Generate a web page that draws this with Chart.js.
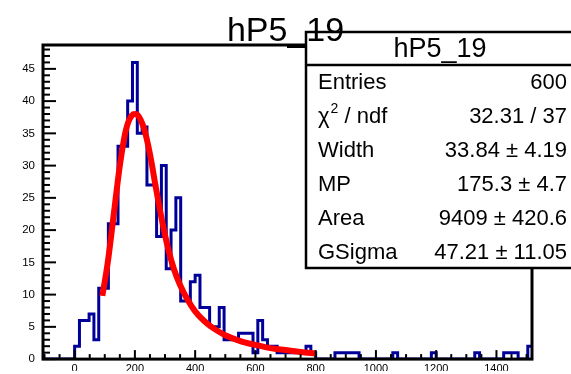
<!DOCTYPE html>
<html>
<head>
<meta charset="utf-8">
<script src="https://cdn.jsdelivr.net/npm/chart.js@4/dist/chart.umd.min.js"></script>
<style>
  html, body { margin: 0; padding: 0; background: #fff; }
  canvas { display: block; }
</style>
</head>
<body>
<canvas id="histo" width="571" height="374"></canvas>
<script>
// histogram hP5_19, bins of 16 starting at 0
const histName = 'hP5_19';
const binWidth = 16;
const binCounts = [
  2, 6, 6, 7, 3, 11, 11, 21, 21, 33,
  33, 40, 46, 35, 36, 27, 27, 19, 30, 14,
  20, 25, 9, 9, 12, 13, 8, 8, 5, 5,
  8, 3, 3, 3, 4, 4, 4, 1, 6, 3,
  2, 2, 1, 1, 1, 1, 1, 1, 2, 1,
  0, 0, 0, 0, 1, 1, 1, 1, 1, 0,
  0, 0, 0, 0, 0, 0, 1, 0, 0, 0,
  0, 0, 0, 0, 1, 0, 0, 0, 0, 0,
  0, 0, 0, 1, 0, 0, 0, 0, 0, 1,
  1, 1, 0, 0, 2
];

// fitted landau x gauss curve
const fitX = [92, 110, 130, 150, 170, 190, 200, 210, 230, 250, 270, 290, 310, 330, 350, 375, 400, 430, 460, 500, 550, 600, 650, 700, 750, 800];
const fitY = [9.8, 15, 22.5, 30, 35.5, 37.8, 38, 37.8, 35.8, 31.8, 26.5, 21.5, 17.2, 13.9, 11.5, 9.2, 7.4, 5.9, 4.8, 3.7, 2.8, 2.2, 1.7, 1.4, 1.1, 0.9];

const xTickValues = [0, 200, 400, 600, 800, 1000, 1200, 1400];
const yTickValues = [0, 5, 10, 15, 20, 25, 30, 35, 40, 45];

const statLabels = ['Entries', 'χ2 / ndf', 'Width', 'MP', 'Area', 'GSigma'];
const statValues = ['600', '32.31 / 37', '33.84 ± 4.19', '175.3 ± 4.7', '9409 ± 420.6', '47.21 ± 11.05'];

const xMin = -105, xMax = 1518;
const yMax = 48.7;

const FONT = "'Liberation Sans', Arial, Helvetica, sans-serif";

const histPoints = [{x: xMin, y: 0}];
binCounts.forEach((c, i) => histPoints.push({x: i * binWidth, y: c}));
histPoints.push({x: binCounts.length * binWidth, y: binCounts[binCounts.length - 1]});

const fitPoints = fitX.map((x, i) => ({x: x, y: fitY[i]}));

function line(ctx, x1, y1, x2, y2) {
  ctx.beginPath();
  ctx.moveTo(x1, y1);
  ctx.lineTo(x2, y2);
  ctx.stroke();
}

// frame + inside ticks, ROOT style
const framePlugin = {
  id: 'frame',
  afterDatasetsDraw(chart) {
    const {ctx, chartArea: a, scales: {x, y}} = chart;
    ctx.save();
    ctx.strokeStyle = '#000';
    ctx.lineWidth = 2;
    for (let v = 0; v <= 48; v++) {
      const py = y.getPixelForValue(v);
      line(ctx, a.left, py, a.left + (v % 5 === 0 ? 13 : 7), py);
    }
    for (let v = -100; v <= 1500; v += 50) {
      const px = x.getPixelForValue(v);
      line(ctx, px, a.bottom, px, a.bottom - (v % 200 === 0 ? 9 : 5));
    }
    ctx.lineWidth = 3;
    ctx.strokeRect(a.left, a.top, a.right - a.left, a.bottom - a.top);
    ctx.restore();
  }
};

// stats box and title
const statsPlugin = {
  id: 'stats',
  afterDraw(chart) {
    const ctx = chart.ctx;
    const bx = 306, by = 32, bw = 270, bh = 236, head = 33;
    ctx.save();
    ctx.fillStyle = '#fff';
    ctx.fillRect(bx, by, bw, bh);
    ctx.strokeStyle = '#000';
    ctx.lineWidth = 2.5;
    ctx.strokeRect(bx, by, bw, bh);
    line(ctx, bx, by + head, bx + bw, by + head);

    ctx.fillStyle = '#000';
    ctx.textAlign = 'center';
    ctx.textBaseline = 'alphabetic';
    ctx.font = '27px ' + FONT;
    ctx.fillText(histName, 440, 57);

    const rowH = (bh - head) / statLabels.length;
    ctx.font = '22px ' + FONT;
    ctx.textBaseline = 'middle';
    statLabels.forEach((lab, i) => {
      const cy = by + head + rowH * (i + 0.5) + 1.5;
      ctx.textAlign = 'left';
      if (lab.startsWith('χ2')) {
        ctx.fillText('χ', 318, cy);
        let w = ctx.measureText('χ').width;
        ctx.font = '14px ' + FONT;
        ctx.fillText('2', 318 + w + 1, cy - 8);
        w += ctx.measureText('2').width + 1;
        ctx.font = '22px ' + FONT;
        ctx.fillText(lab.slice(2), 318 + w, cy);
      } else {
        ctx.fillText(lab, 318, cy);
      }
      ctx.textAlign = 'right';
      ctx.fillText(statValues[i], 567, cy);
    });

    ctx.textAlign = 'center';
    ctx.textBaseline = 'alphabetic';
    ctx.font = '34px ' + FONT;
    ctx.fillText(histName, 285.5, 41);
    ctx.restore();
  }
};

new Chart(document.getElementById('histo'), {
  type: 'line',
  data: {
    datasets: [{
      label: 'fit',
      data: fitPoints,
      borderColor: '#ff0000',
      borderWidth: 6,
      pointRadius: 0,
      cubicInterpolationMode: 'monotone',
      fill: false
    }, {
      label: histName,
      data: histPoints,
      borderColor: '#000099',
      borderWidth: 3,
      pointRadius: 0,
      stepped: true,
      fill: false
    }]
  },
  options: {
    responsive: false,
    animation: false,
    devicePixelRatio: 1,
    layout: { padding: { left: 0, right: 39, top: 45, bottom: 0 } },
    plugins: { legend: { display: false }, tooltip: { enabled: false }, title: { display: false } },
    scales: {
      x: {
        type: 'linear',
        min: xMin,
        max: xMax,
        grid: { display: false, drawTicks: false },
        border: { display: false },
        ticks: {
          maxRotation: 0,
          autoSkip: false,
          padding: 3,
          color: '#000',
          font: { family: FONT, size: 11 },
          callback: (v) => String(v)
        },
        afterBuildTicks(scale) { scale.ticks = xTickValues.map(v => ({value: v})); },
        afterFit(scale) { scale.height = 12; }
      },
      y: {
        min: 0,
        max: yMax,
        grid: { display: false, drawTicks: false },
        border: { display: false },
        ticks: {
          autoSkip: false,
          padding: 8,
          color: '#000',
          font: { family: FONT, size: 11.5 },
          callback: (v) => String(v)
        },
        afterBuildTicks(scale) { scale.ticks = yTickValues.map(v => ({value: v})); },
        afterFit(scale) { scale.width = 43; }
      }
    }
  },
  plugins: [framePlugin, statsPlugin]
});
</script>
</body>
</html>
